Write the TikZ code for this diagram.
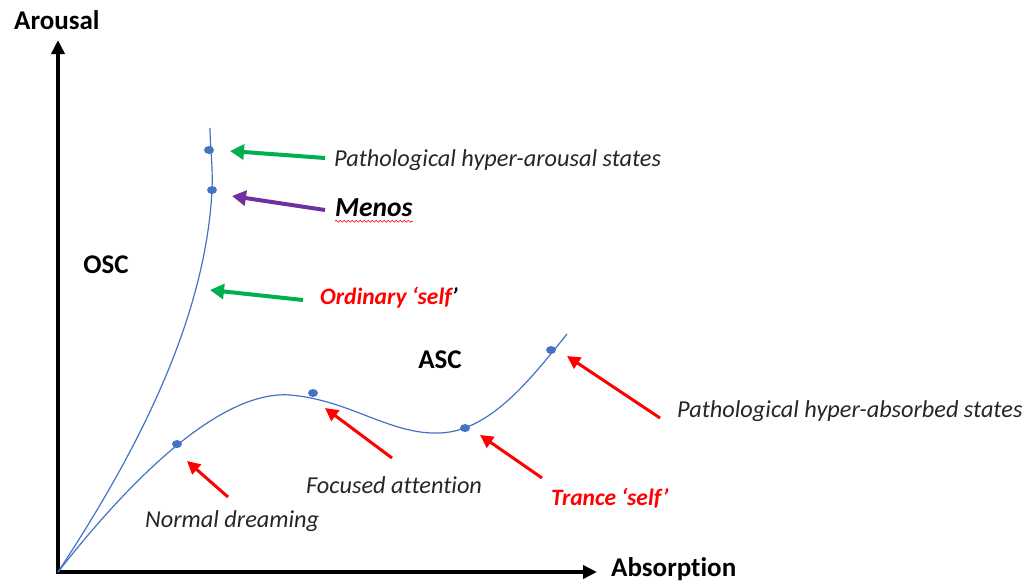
\documentclass[tikz,border=0pt]{standalone}
\usepackage{fontspec}
\setmainfont{Carlito}[Ligatures=NoCommon]
\usetikzlibrary{arrows.meta,decorations.pathmorphing,shapes.geometric}
\definecolor{curveblue}{HTML}{4472C4}
\definecolor{dotblue}{HTML}{4472C4}
\definecolor{ggreen}{HTML}{00B050}
\definecolor{ppurple}{HTML}{7030A0}
\definecolor{rred}{HTML}{FF0000}
\definecolor{txt}{HTML}{262626}
\tikzset{
  curve/.style={draw=curveblue, line width=1.2pt},
  statedot/.style={fill=dotblue, draw=none, ellipse, minimum width=10pt, minimum height=8pt, inner sep=0pt},
  axis/.style={line width=3.5pt, -{Triangle[length=14pt,width=13pt]}},
  bigarrow/.style={line width=4pt, -{Triangle[length=14pt,width=15pt]}},
  redarrow/.style={draw=rred, line width=3pt, -{Triangle[length=13pt,width=13pt]}},
  lab/.style={inner sep=0pt, anchor=west, font=\fontsize{24.3}{28}\selectfont\itshape, text=txt},
  redlab/.style={inner sep=0pt, anchor=west, font=\fontsize{23.5}{28}\selectfont\bfseries\itshape, text=rred},
  boldlab/.style={inner sep=0pt, font=\fontsize{27}{30}\selectfont\bfseries, text=black},
}
\begin{document}
\begin{tikzpicture}[x=1pt,y=-1pt]
\useasboundingbox (0,0) rectangle (1031,584);
% axes
\coordinate (O) at (58,572);
\coordinate (ytip) at (58,40);
\coordinate (xtip) at (597,572);
\draw[axis] (58,574) -- (ytip);
\draw[axis] (56,572) -- (xtip);
\node[boldlab, anchor=west] (arousal) at (14,20) {Arousal};
\node[boldlab, anchor=base west] (absorption) at (611,576) {Absorption};
% curves
\draw[curve] (O) .. controls (125,470) and (205,330) .. (212,190) .. controls (213,165) and (210,145) .. (210,128);
\draw[curve] (O) .. controls (130,480) and (220,390) .. (290,395) .. controls (350,400) and (390,435) .. (440,433) .. controls (490,431) and (530,380) .. (567,334);
% dots
\node[statedot] (d1) at (209,150) {};
\node[statedot] (d2) at (212,190) {};
\node[statedot] (d3) at (177,444) {};
\node[statedot] (d4) at (313,393) {};
\node[statedot] (d5) at (465,428) {};
\node[statedot] (d6) at (551,350) {};
% region labels
\node[boldlab] (osc) at (106,265) {OSC};
\node[boldlab] (asc) at (440,360) {ASC};
% text labels
\node[lab] (phar) at (334,160) {Pathological hyper-arousal states};
\node[inner sep=0pt, anchor=west, font=\fontsize{27.5}{30}\selectfont\bfseries\itshape, text=black] (menos) at (335,208) {Menos};
\draw[rred, line width=0.6pt, decorate, decoration={snake, amplitude=1pt, segment length=4pt}] ([yshift=-4pt]menos.south west) -- ([yshift=-4pt]menos.south east);
\node[redlab] (ord) at (320,298) {Ordinary ‘self\textcolor{black}{’}};
\node[lab] (phab) at (677,411) {Pathological hyper-absorbed states};
\node[lab] (foc) at (306,485) {Focused attention};
\node[redlab] (trance) at (551,498) {Trance ‘self’};
\node[lab] (dream) at (145,521) {Normal dreaming};
% arrows
\coordinate (a1t) at (325,158); \coordinate (a1h) at (230,151);
\coordinate (a2t) at (325,210); \coordinate (a2h) at (232,196);
\coordinate (a3t) at (303,300); \coordinate (a3h) at (210,290);
\coordinate (a4t) at (228,497); \coordinate (a4h) at (187,461);
\coordinate (a5t) at (392,458); \coordinate (a5h) at (325,408);
\coordinate (a6t) at (542,478); \coordinate (a6h) at (480,435);
\coordinate (a7t) at (660,418); \coordinate (a7h) at (567,356);
\draw[bigarrow, draw=ggreen, fill=ggreen] (a1t) -- (a1h);
\draw[bigarrow, draw=ppurple, fill=ppurple] (a2t) -- (a2h);
\draw[bigarrow, draw=ggreen, fill=ggreen] (a3t) -- (a3h);
\draw[redarrow] (a4t) -- (a4h);
\draw[redarrow] (a5t) -- (a5h);
\draw[redarrow] (a6t) -- (a6h);
\draw[redarrow] (a7t) -- (a7h);
\end{tikzpicture}
\end{document}
